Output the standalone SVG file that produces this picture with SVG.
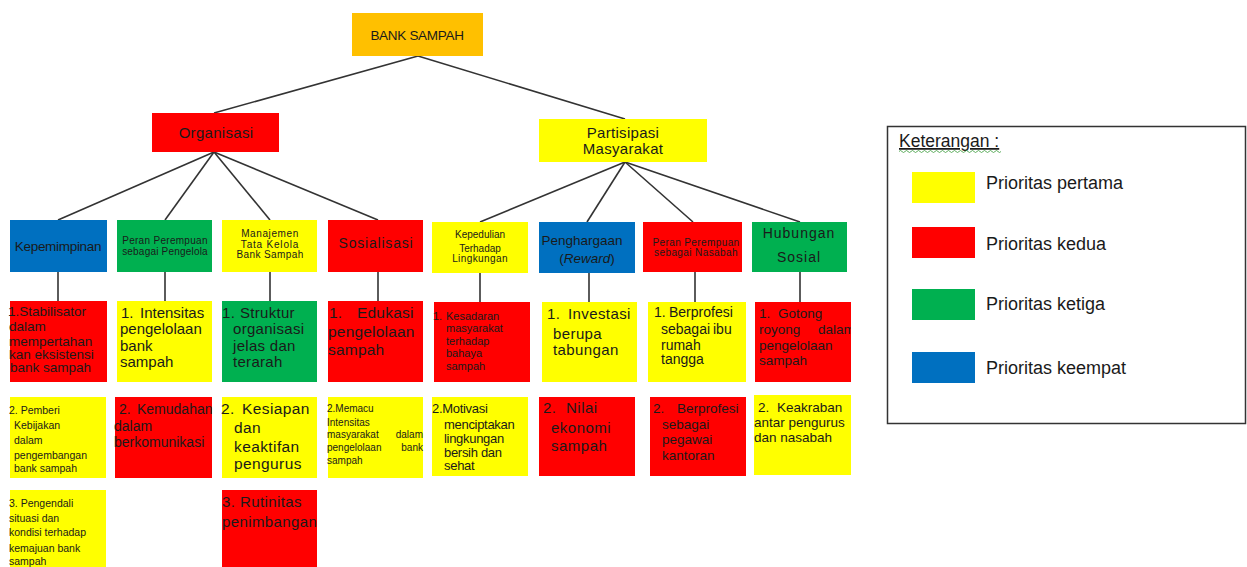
<svg xmlns="http://www.w3.org/2000/svg" width="1247" height="567" viewBox="0 0 1247 567">
<style>
.y{fill:#FFFF00}.r{fill:#FF0000}.g{fill:#00B050}.b{fill:#0070C0}.o{fill:#FFC000}
text{font-family:"Liberation Sans",Arial,sans-serif;fill:#1a1a1a}
.c{text-anchor:middle}.e{text-anchor:end}
.cn line{stroke:#333;stroke-width:1.6}
</style>
<defs>
<clipPath id="clipG"><rect x="755" y="302" width="96" height="80"/></clipPath>
</defs>
<rect width="1247" height="567" fill="#fff"/>

<g class="cn" id="connectors">
<line x1="418" y1="56" x2="214" y2="113"/>
<line x1="418" y1="56" x2="625" y2="119"/>
<line x1="214" y1="152" x2="58" y2="220"/>
<line x1="214" y1="152" x2="165" y2="220"/>
<line x1="214" y1="152" x2="270" y2="220"/>
<line x1="214" y1="152" x2="378" y2="220"/>
<line x1="625" y1="162" x2="480" y2="222"/>
<line x1="625" y1="162" x2="587" y2="222"/>
<line x1="625" y1="162" x2="693" y2="222"/>
<line x1="625" y1="162" x2="800" y2="222"/>
<line x1="58" y1="272" x2="58" y2="301"/>
<line x1="165" y1="272" x2="165" y2="301"/>
<line x1="270" y1="272" x2="270" y2="301"/>
<line x1="378" y1="272" x2="378" y2="301"/>
<line x1="480" y1="273" x2="480" y2="302"/>
<line x1="589" y1="273" x2="589" y2="302"/>
<line x1="695" y1="272" x2="695" y2="302"/>
<line x1="800" y1="272" x2="800" y2="302"/>
</g>

<g id="bank-sampah"><rect class="o" x="352" y="13" width="131" height="43"/><text class="c" x="417" y="40" font-size="13.5" letter-spacing="-0.3">BANK SAMPAH</text></g>
<g id="organisasi"><rect class="r" x="152" y="113" width="127" height="39"/><text class="c" x="216" y="138" font-size="15" letter-spacing="0.3">Organisasi</text></g>
<g id="partisipasi"><rect class="y" x="539" y="119" width="168" height="43"/><text class="c" x="623" y="138" font-size="15" letter-spacing="0.3">Partisipasi</text><text class="c" x="623" y="154" font-size="15" letter-spacing="0.3">Masyarakat</text></g>

<g id="kepemimpinan"><rect class="b" x="10" y="220" width="97" height="52"/><text class="c" x="58" y="251" font-size="13.5" letter-spacing="-0.3">Kepemimpinan</text></g>
<g id="peran-pengelola"><rect class="g" x="117" y="220" width="95" height="52"/><text class="c" x="165" y="244" font-size="10" letter-spacing="0.3">Peran Perempuan</text><text class="c" x="165" y="255" font-size="10" letter-spacing="0.2">sebagai Pengelola</text></g>
<g id="manajemen"><rect class="y" x="222" y="220" width="95" height="52"/><text class="c" x="270" y="237" font-size="10" letter-spacing="0.6">Manajemen</text><text class="c" x="270" y="248" font-size="10" letter-spacing="0.8">Tata Kelola</text><text class="c" x="270" y="258" font-size="10" letter-spacing="0.4">Bank Sampah</text></g>
<g id="sosialisasi"><rect class="r" x="328" y="220" width="95" height="52"/><text class="c" x="376" y="248" font-size="14" letter-spacing="0.8">Sosialisasi</text></g>
<g id="kepedulian"><rect class="y" x="432" y="222" width="96" height="51"/><text class="c" x="480" y="238" font-size="10">Kepedulian</text><text class="c" x="480" y="252" font-size="10">Terhadap</text><text class="c" x="480" y="262" font-size="10" letter-spacing="0.4">Lingkungan</text></g>
<g id="penghargaan"><rect class="b" x="539" y="222" width="96" height="51"/><text class="c" x="582" y="245" font-size="13.5">Penghargaan</text><text class="c" x="587" y="263" font-size="13.5">(<tspan font-style="italic">Reward</tspan>)</text></g>
<g id="peran-nasabah"><rect class="r" x="643" y="222" width="99" height="50"/><text class="c" x="696" y="246" font-size="10" letter-spacing="0.4">Peran Perempuan</text><text class="c" x="696" y="256" font-size="10" letter-spacing="0.4">sebagai Nasabah</text></g>
<g id="hubungan"><rect class="g" x="752" y="222" width="95" height="50"/><text class="c" x="799" y="238" font-size="14" letter-spacing="1">Hubungan</text><text class="c" x="799" y="262" font-size="14" letter-spacing="1">Sosial</text></g>

<g id="stabilisator"><rect class="r" x="10" y="301" width="97" height="81"/><text font-size="13.5"><tspan x="8" y="316">1.Stabilisator</tspan><tspan x="9" y="331">dalam</tspan><tspan x="9" y="346">mempertahan</tspan><tspan x="9" y="359">kan eksistensi</tspan><tspan x="10" y="372">bank sampah</tspan></text></g>
<g id="intensitas"><rect class="y" x="117" y="301" width="95" height="81"/><text font-size="15"><tspan x="121" y="318">1.</tspan><tspan x="140" y="318">Intensitas</tspan><tspan x="120" y="334">pengelolaan</tspan><tspan x="120" y="351">bank</tspan><tspan x="120" y="367">sampah</tspan></text></g>
<g id="struktur"><rect class="g" x="222" y="301" width="95" height="81"/><text font-size="15" letter-spacing="0.3"><tspan x="222" y="318">1.</tspan><tspan x="240" y="318">Struktur</tspan><tspan x="233" y="334">organisasi</tspan><tspan x="233" y="351">jelas dan</tspan><tspan x="233" y="367">terarah</tspan></text></g>
<g id="edukasi"><rect class="r" x="328" y="301" width="95" height="81"/><text font-size="15.5" letter-spacing="0.2"><tspan x="329" y="318">1.</tspan><tspan x="357" y="318">Edukasi</tspan><tspan x="328" y="337">pengelolaan</tspan><tspan x="328" y="355">sampah</tspan></text></g>
<g id="kesadaran"><rect class="r" x="434" y="302" width="96" height="80"/><text font-size="11"><tspan x="433" y="320">1.</tspan><tspan x="446" y="320">Kesadaran</tspan><tspan x="446" y="332">masyarakat</tspan><tspan x="446" y="345">terhadap</tspan><tspan x="446" y="357">bahaya</tspan><tspan x="446" y="370">sampah</tspan></text></g>
<g id="investasi"><rect class="y" x="542" y="302" width="95" height="80"/><text font-size="15" letter-spacing="0.4"><tspan x="547" y="319">1.</tspan><tspan x="568" y="319">Investasi</tspan><tspan x="553" y="339">berupa</tspan><tspan x="553" y="355">tabungan</tspan></text></g>
<g id="ibu-rumah"><rect class="y" x="648" y="302" width="98" height="80"/><text font-size="14"><tspan x="654" y="317">1.</tspan><tspan x="669" y="317">Berprofesi</tspan><tspan x="661" y="334">sebagai</tspan><tspan x="713" y="334">ibu</tspan><tspan x="661" y="350">rumah</tspan><tspan x="661" y="364">tangga</tspan></text></g>
<g id="gotong"><rect class="r" x="755" y="302" width="96" height="80"/><text font-size="13.5" clip-path="url(#clipG)"><tspan x="759" y="318">1.</tspan><tspan x="778" y="318">Gotong</tspan><tspan x="759" y="334">royong</tspan><tspan x="818" y="334">dalam</tspan><tspan x="759" y="350">pengelolaan</tspan><tspan x="759" y="365">sampah</tspan></text></g>

<g id="pemberi"><rect class="y" x="10" y="397" width="96" height="81"/><text font-size="10.5"><tspan x="9" y="414">2. Pemberi</tspan><tspan x="14" y="429">Kebijakan</tspan><tspan x="14" y="444">dalam</tspan><tspan x="14" y="459">pengembangan</tspan><tspan x="14" y="472">bank sampah</tspan></text></g>
<g id="kemudahan"><rect class="r" x="115" y="397" width="97" height="81"/><text font-size="14"><tspan x="119" y="414">2.</tspan><tspan x="137" y="414">Kemudahan</tspan><tspan x="114" y="431">dalam</tspan><tspan x="114" y="447">berkomunikasi</tspan></text></g>
<g id="pengendali"><rect class="y" x="10" y="490" width="96" height="77"/><text font-size="10.5"><tspan x="9" y="507">3. Pengendali</tspan><tspan x="9" y="522">situasi dan</tspan><tspan x="9" y="536">kondisi terhadap</tspan><tspan x="9" y="552">kemajuan bank</tspan><tspan x="9" y="565">sampah</tspan></text></g>
<g id="kesiapan"><rect class="y" x="222" y="397" width="95" height="81"/><text font-size="15.5" letter-spacing="0.4"><tspan x="221" y="414">2.</tspan><tspan x="242" y="414">Kesiapan</tspan><tspan x="234" y="433">dan</tspan><tspan x="234" y="452">keaktifan</tspan><tspan x="234" y="469">pengurus</tspan></text></g>
<g id="memacu"><rect class="y" x="328" y="397" width="95" height="81"/><text font-size="10"><tspan x="327" y="412">2.Memacu</tspan><tspan x="327" y="426">Intensitas</tspan><tspan x="327" y="438">masyarakat</tspan><tspan class="e" x="423" y="438">dalam</tspan><tspan x="327" y="451">pengelolaan</tspan><tspan class="e" x="423" y="451">bank</tspan><tspan x="327" y="464">sampah</tspan></text></g>
<g id="rutinitas"><rect class="r" x="222" y="490" width="95" height="77"/><text font-size="15" letter-spacing="0.4"><tspan x="222" y="507">3.</tspan><tspan x="240" y="507">Rutinitas</tspan><tspan x="222" y="527">penimbangan</tspan></text></g>
<g id="motivasi"><rect class="y" x="432" y="397" width="96" height="79"/><text font-size="13" letter-spacing="-0.3"><tspan x="432" y="413">2.Motivasi</tspan><tspan x="444" y="429">menciptakan</tspan><tspan x="444" y="443">lingkungan</tspan><tspan x="444" y="457">bersih dan</tspan><tspan x="444" y="470">sehat</tspan></text></g>
<g id="nilai"><rect class="r" x="539" y="397" width="96" height="79"/><text font-size="15" letter-spacing="0.5"><tspan x="543" y="413">2.</tspan><tspan x="566" y="413">Nilai</tspan><tspan x="551" y="433">ekonomi</tspan><tspan x="551" y="451">sampah</tspan></text></g>
<g id="pegawai"><rect class="r" x="650" y="397" width="96" height="79"/><text font-size="13.5"><tspan x="653" y="413">2.</tspan><tspan x="677" y="413">Berprofesi</tspan><tspan x="662" y="429">sebagai</tspan><tspan x="662" y="444">pegawai</tspan><tspan x="662" y="460">kantoran</tspan></text></g>
<g id="keakraban"><rect class="y" x="754" y="395" width="97" height="80"/><text font-size="13.5"><tspan x="758" y="412">2.</tspan><tspan x="777" y="412">Keakraban</tspan><tspan x="754" y="427">antar pengurus</tspan><tspan x="754" y="442">dan nasabah</tspan></text></g>

<g id="legend">
<rect x="887.5" y="126.5" width="358" height="297" fill="#fff" stroke="#333" stroke-width="1.5"/>
<text x="899" y="147" font-size="17.5" text-decoration="underline">Keterangan :</text>
<path d="M899 151.5 q1.5 -2 3 0 t3 0 t3 0 t3 0 t3 0 t3 0 t3 0 t3 0 t3 0 t3 0 t3 0 t3 0 t3 0 t3 0 t3 0 t3 0 t3 0 t3 0 t3 0 t3 0 t3 0 t3 0 t3 0 t3 0 t3 0 t3 0 t3 0 t3 0 t3 0 t3 0 t3 0 t3 0 t3 0 t3 0" fill="none" stroke="#3a9a3a" stroke-width="0.8"/>
<rect class="y" x="912" y="172" width="63" height="31"/><text x="986" y="189" font-size="18">Prioritas pertama</text>
<rect class="r" x="912" y="227" width="63" height="31"/><text x="986" y="250" font-size="18">Prioritas kedua</text>
<rect class="g" x="912" y="289" width="63" height="31"/><text x="986" y="310" font-size="18">Prioritas ketiga</text>
<rect class="b" x="912" y="352" width="63" height="31"/><text x="986" y="374" font-size="18">Prioritas keempat</text>
</g>
</svg>
